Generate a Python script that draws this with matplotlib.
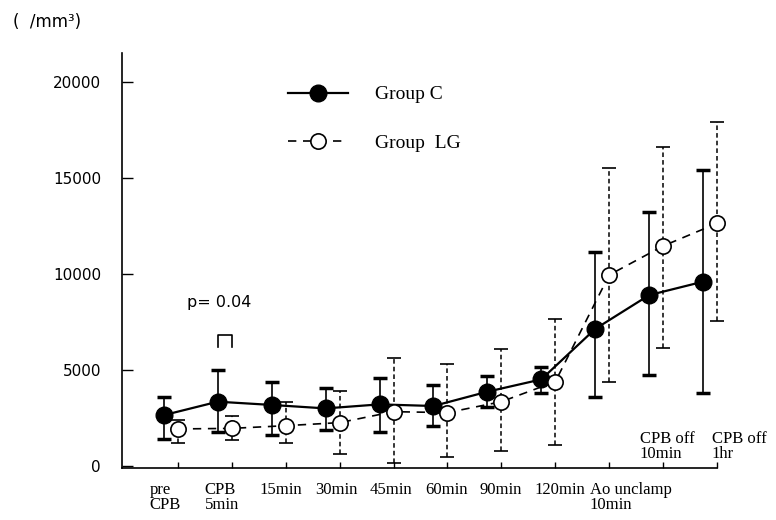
import matplotlib.pyplot as plt
import numpy as np

# === Данные ===
labels = ["pre\nCPB", "CPB\n5min", "15min", "30min", "45min", "60min",
          "90min", "120min", "Ao unclamp\n10min", "CPB off\n10min", "CPB off\n1hr"]

c_mean = [2650, 3350, 3180, 3000, 3210, 3125, 3870, 4510, 7140, 8900, 9600]
c_upper = [3610, 5000, 4360, 4080, 4570, 4220, 4700, 5140, 11160, 13250, 15420]
c_lower = [1400, 1790, 1610, 1875, 1750, 2080, 3090, 3780, 3610, 4740, 3790]

lg_mean = [1930, 1960, 2100, 2260, 2830, 2780, 3350, 4390, 9950, 11460, 12640]
lg_upper = [2400, 2600, 3350, 3920, 5610, 5300, 6090, 7660, 15500, 16630, 17930]
lg_lower = [1180, 1350, 1180, 620, 170, 480, 780, 1090, 4390, 6130, 7570]

p_label = "p= 0.04"
p_index = 1

# === Оформление ===
serif = "Liberation Serif"
x = np.arange(len(labels))
c_x = x - 0.26

c_mean_a = np.array(c_mean)
lg_mean_a = np.array(lg_mean)
c_err = [c_mean_a - np.array(c_lower), np.array(c_upper) - c_mean_a]
lg_err = [lg_mean_a - np.array(lg_lower), np.array(lg_upper) - lg_mean_a]

fig = plt.figure(figsize=(7.76, 5.2), dpi=100)
ax = fig.add_axes([0.157, 0.1, 0.767, 0.798])

eb_c = ax.errorbar(c_x, c_mean, yerr=c_err, fmt="-o", color="black",
                   mfc="black", mec="black", ms=12, lw=1.6, elinewidth=1.2,
                   capsize=5, capthick=2.5, zorder=3, clip_on=False)
eb_lg = ax.errorbar(x, lg_mean, yerr=lg_err, fmt="o", color="black",
                    ls=(0, (5, 4)), mfc="white", mec="black", ms=11, mew=1.2,
                    lw=1.2, elinewidth=1.1, capsize=5, capthick=2.5,
                    zorder=4, clip_on=False)
eb_lg[2][0].set_linestyle((0, (3, 2)))

# === Скобка и p ===
bx0, bx1 = c_x[p_index], x[p_index]
top = c_upper[p_index] + 1800
leg = c_upper[p_index] + 1200
ax.plot([bx0, bx0, bx1, bx1], [leg, top, top, leg], color="black", lw=1.2)
ax.text(bx0 - 0.57, top + 1720, p_label, ha="left", va="center", fontsize=11.5)

# === Оси ===
ax.set_xlim(-1.04, 10.0)
ax.set_ylim(-104, 21510)
ax.set_yticks([0, 5000, 10000, 15000, 20000])
ax.set_xticks(x)
ax.tick_params(axis="y", direction="in", length=8, width=1, pad=15, labelsize=11)
ax.tick_params(axis="x", direction="in", length=4, width=1, labelbottom=False)
for s in ["top", "right"]:
    ax.spines[s].set_visible(False)
for s in ["left", "bottom"]:
    ax.spines[s].set_linewidth(1.2)

# подписи категорий
for i, lab in enumerate(labels[:9]):
    ax.annotate(lab, xy=(i - 0.52 + 0.02 * i, 0), xycoords=("data", "axes fraction"),
                xytext=(0, -10), textcoords="offset points", ha="left", va="top",
                fontsize=12, family=serif, linespacing=0.95)
for i, dx in [(9, -0.43), (10, -0.1)]:
    ax.annotate(labels[i], xy=(i + dx, 0), xycoords=("data", "axes fraction"),
                xytext=(0, 4), textcoords="offset points", ha="left", va="bottom",
                fontsize=12, family=serif, linespacing=0.95, annotation_clip=False)

fig.text(0.017, 0.958, "(  /mm³)", va="center", ha="left", fontsize=12)

ax.legend([eb_c[0], eb_lg[0]], ["Group C", "Group  LG"], loc="upper left",
          bbox_to_anchor=(0.371, 0.835), bbox_transform=fig.transFigure,
          frameon=False, borderpad=0, borderaxespad=0, handlelength=3.1,
          handletextpad=1.4, labelspacing=1.6, prop={"family": serif, "size": 14})

fig.savefig("out.png", dpi=100)
